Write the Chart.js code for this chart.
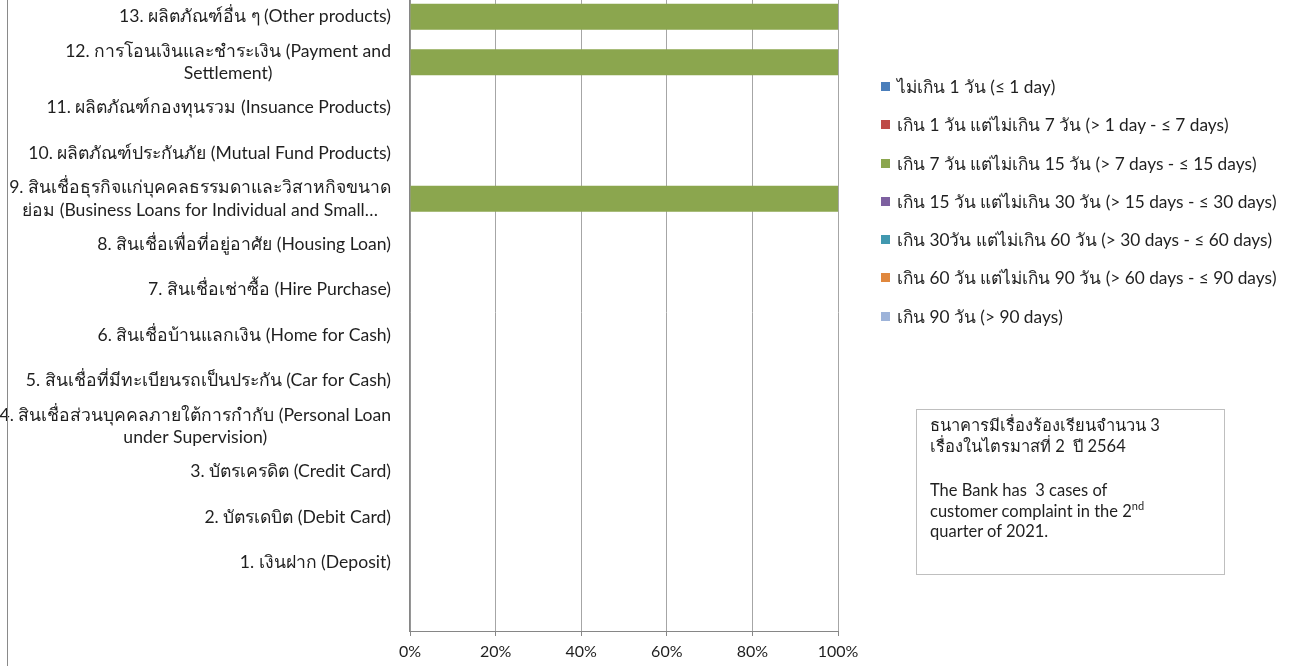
<!DOCTYPE html>
<html>
<head>
<meta charset="utf-8">
<script src="https://cdn.jsdelivr.net/npm/chart.js@4.4.1/dist/chart.umd.min.js"></script>
<style>
  body { margin: 0; width: 1291px; height: 666px; overflow: hidden; background: #fff; position: relative;
         font-family: "Lato", "Noto Sans", sans-serif; color: #1f1f1f; }
  #wrap { position: absolute; left: 0; top: -34px; width: 1291px; height: 700px; }
  #frame { position: absolute; left: 7px; top: 0; width: 1px; height: 666px; background: #8a8a8a; }
  #legend { position: absolute; left: 881px; top: 76px; }
  .item { position: relative; height: 38.3px; font-size: 17.3px; white-space: nowrap; }
  .item span.box { position: absolute; left: 0; top: 6px; width: 9px; height: 9px; }
  .item span.txt { position: absolute; left: 16px; top: 0; line-height: 22px; }
  #note { position: absolute; left: 916px; top: 409px; width: 309px; height: 166px; border: 1px solid #bfbfbf;
          box-sizing: border-box; padding: 5px 0 0 13px; font-size: 16.5px; line-height: 20.5px; }
  #note p { margin: 0 0 24px 0; }
  sup { font-size: 11px; line-height: 0; vertical-align: 7px; }
</style>
</head>
<body>
<div id="wrap"><canvas id="complaintChart" width="1291" height="700"></canvas></div>
<div id="frame"></div>
<div id="legend"></div>
<div id="note">
  <p>ธนาคารมีเรื่องร้องเรียนจำนวน 3<br>เรื่องในไตรมาสที่ 2&nbsp; ปี 2564</p>
  <p>The Bank has&nbsp; 3 cases of<br>customer complaint in the 2<sup>nd</sup><br>quarter of 2021.</p>
</div>
<script>
// categories from bottom (empty slot) to top
const categories = [
  "",
  "1. เงินฝาก (Deposit)",
  "2. บัตรเดบิต (Debit Card)",
  "3. บัตรเครดิต (Credit Card)",
  ["4. สินเชื่อส่วนบุคคลภายใต้การกำกับ (Personal Loan", "under Supervision)"],
  "5. สินเชื่อที่มีทะเบียนรถเป็นประกัน (Car for Cash)",
  "6. สินเชื่อบ้านแลกเงิน (Home for Cash)",
  "7. สินเชื่อเช่าซื้อ (Hire Purchase)",
  "8. สินเชื่อเพื่อที่อยู่อาศัย (Housing Loan)",
  ["9. สินเชื่อธุรกิจแก่บุคคลธรรมดาและวิสาหกิจขนาด", "ย่อม (Business Loans for Individual and Small…"],
  "10. ผลิตภัณฑ์ประกันภัย (Mutual Fund Products)",
  "11. ผลิตภัณฑ์กองทุนรวม (Insuance Products)",
  ["12. การโอนเงินและชำระเงิน (Payment and", "Settlement)"],
  "13. ผลิตภัณฑ์อื่น ๆ (Other products)"
];

const seriesNames = [
  "ไม่เกิน 1 วัน (≤ 1 day)",
  "เกิน 1 วัน แต่ไม่เกิน 7 วัน (> 1 day - ≤ 7 days)",
  "เกิน 7 วัน แต่ไม่เกิน 15 วัน (> 7 days - ≤ 15 days)",
  "เกิน 15 วัน แต่ไม่เกิน 30 วัน (> 15 days - ≤ 30 days)",
  "เกิน 30วัน แต่ไม่เกิน 60 วัน (> 30 days - ≤ 60 days)",
  "เกิน 60 วัน แต่ไม่เกิน 90 วัน (> 60 days - ≤ 90 days)",
  "เกิน 90 วัน (> 90 days)"
];
const seriesColors = ['#4A7EBB', '#BE4B48', '#8BA64E', '#7D60A0', '#4198AF', '#E0873D', '#9DB3D9'];

// number of complaints per category (same order as categories)
const upTo1Day     = [0, 0, 0, 0, 0, 0, 0, 0, 0, 0, 0, 0, 0, 0];
const days1to7     = [0, 0, 0, 0, 0, 0, 0, 0, 0, 0, 0, 0, 0, 0];
const days7to15    = [0, 0, 0, 0, 0, 0, 0, 0, 0, 1, 0, 0, 1, 1];
const days15to30   = [0, 0, 0, 0, 0, 0, 0, 0, 0, 0, 0, 0, 0, 0];
const days30to60   = [0, 0, 0, 0, 0, 0, 0, 0, 0, 0, 0, 0, 0, 0];
const days60to90   = [0, 0, 0, 0, 0, 0, 0, 0, 0, 0, 0, 0, 0, 0];
const over90Days   = [0, 0, 0, 0, 0, 0, 0, 0, 0, 0, 0, 0, 0, 0];

const xTicks = [0, 20, 40, 60, 80, 100];

document.addEventListener("DOMContentLoaded", () => {
    const allSeries = [upTo1Day, days1to7, days7to15, days15to30, days30to60, days60to90, over90Days];

    // 100% stacked: share of each category's total
    const totals = categories.map((c, i) => allSeries.reduce((s, arr) => s + arr[i], 0));
    const toPercent = arr => arr.map((v, i) => totals[i] ? v / totals[i] * 100 : 0);

    const datasets = allSeries.map((arr, k) => ({
        label: seriesNames[k],
        data: toPercent(arr),
        backgroundColor: seriesColors[k],
        borderWidth: 0,
        categoryPercentage: 1,
        barPercentage: 0.57
    }));

    // y labels: block right aligned, lines centred inside the block (like Excel)
    const yLabelPlugin = {
        id: 'yLabels',
        afterDraw(chart) {
            const ctx = chart.ctx;
            const yScale = chart.scales.y;
            ctx.save();
            ctx.font = '17.6px Lato, "Noto Sans", sans-serif';
            ctx.fillStyle = '#1f1f1f';
            ctx.textAlign = 'center';
            ctx.textBaseline = 'middle';
            categories.forEach((lab, i) => {
                const lines = Array.isArray(lab) ? lab : [lab];
                const w = Math.max(...lines.map(l => ctx.measureText(l).width));
                const cx = 391 - w / 2;
                const y = yScale.getPixelForValue(i);
                lines.forEach((l, j) => {
                    ctx.fillText(l, cx, y + (j - (lines.length - 1) / 2) * 22.5);
                });
            });
            ctx.restore();
        }
    };

    const ctx = document.getElementById('complaintChart').getContext('2d');
    new Chart(ctx, {
        type: 'bar',
        data: { labels: categories, datasets: datasets },
        options: {
            indexAxis: 'y',
            responsive: false,
            animation: false,
            layout: { padding: { top: 28, right: 453, left: 0, bottom: 0 } },
            plugins: { legend: { display: false }, tooltip: { enabled: false } },
            scales: {
                x: {
                    stacked: true,
                    min: 0,
                    max: 100,
                    afterBuildTicks: scale => { scale.ticks = xTicks.map(v => ({ value: v })); },
                    afterFit: scale => { scale.height = 35; },
                    grid: { color: '#a6a6a6', lineWidth: 1, tickLength: 5, tickColor: '#868686' },
                    border: { color: '#868686', width: 1 },
                    ticks: {
                        padding: 6,
                        color: '#1f1f1f',
                        font: { family: 'Lato, "Noto Sans", sans-serif', size: 16 },
                        callback: v => v + '%'
                    }
                },
                y: {
                    stacked: true,
                    reverse: true,
                    afterFit: scale => { scale.width = 410; },
                    grid: { display: false },
                    border: { color: '#868686', width: 1.5 },
                    ticks: { display: false }
                }
            }
        },
        plugins: [yLabelPlugin]
    });

    const legend = document.getElementById('legend');
    seriesNames.forEach((name, k) => {
        const item = document.createElement('div');
        item.className = 'item';
        item.innerHTML = '<span class="box" style="background:' + seriesColors[k] + '"></span><span class="txt"></span>';
        item.querySelector('.txt').textContent = name;
        legend.appendChild(item);
    });
});
</script>
</body>
</html>
